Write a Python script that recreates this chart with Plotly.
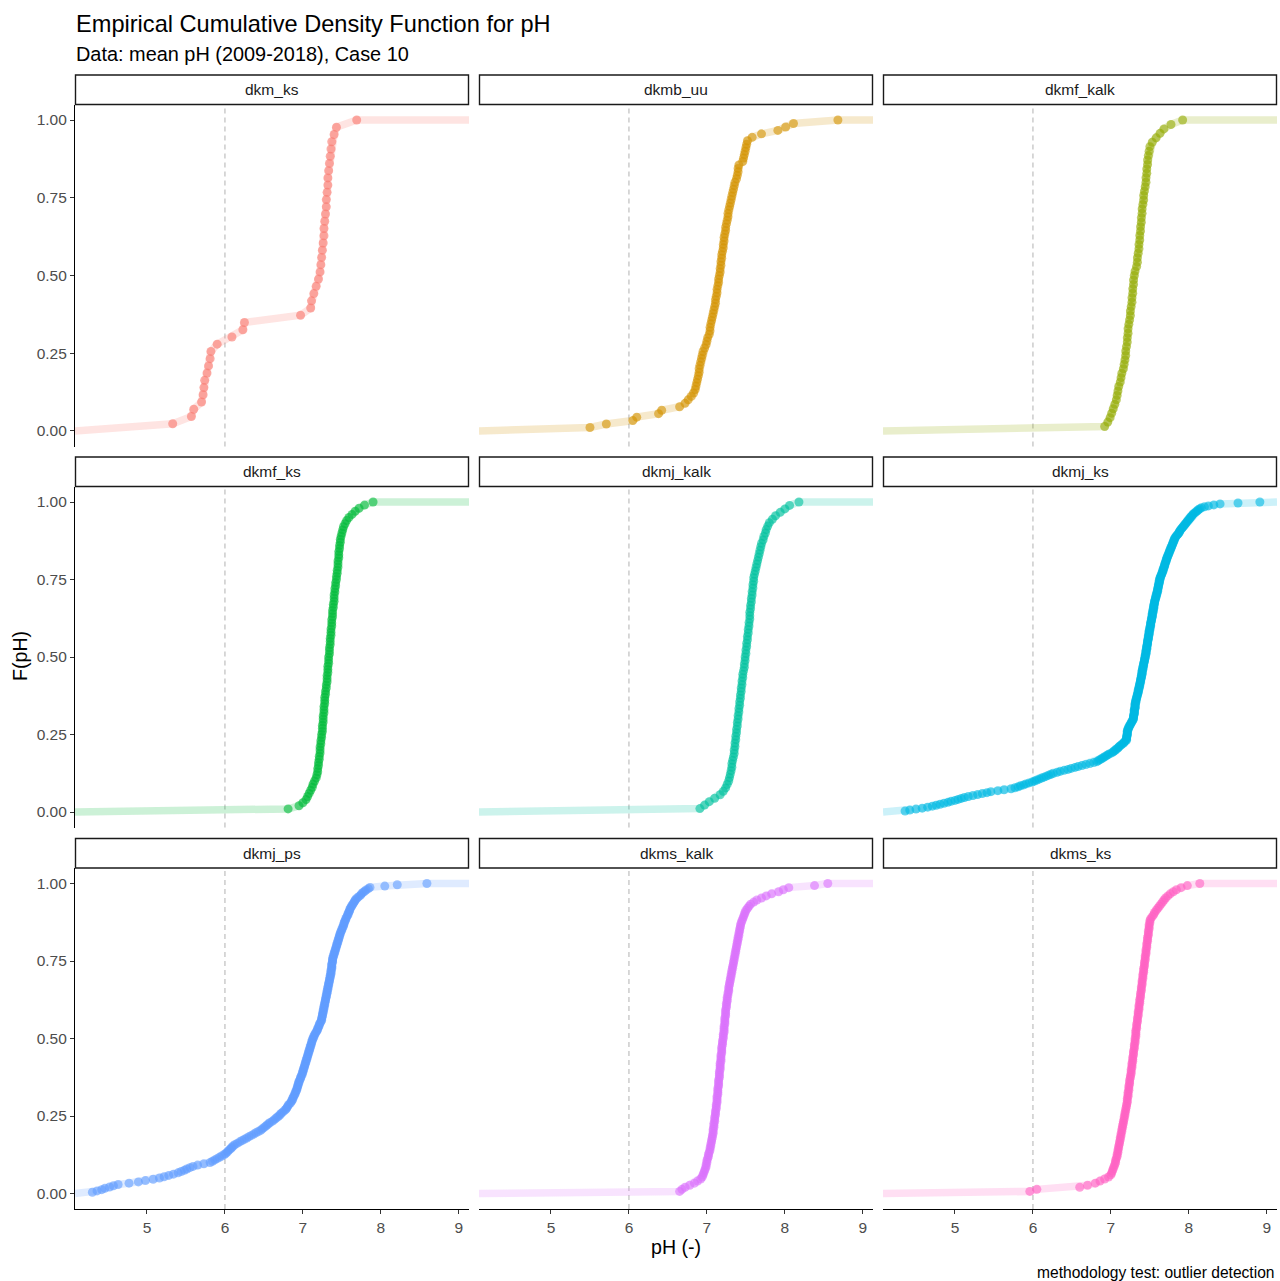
import plotly.graph_objects as go

W, H = 1280, 1281

TITLE = "Empirical Cumulative Density Function for pH"
SUBTITLE = "Data: mean pH (2009-2018), Case 10"
CAPTION = "methodology test: outlier detection"
X_TITLE = "pH (-)"
Y_TITLE = "F(pH)"

PANELS = ["dkm_ks", "dkmb_uu", "dkmf_kalk", "dkmf_ks", "dkmj_kalk",
          "dkmj_ks", "dkmj_ps", "dkms_kalk", "dkms_ks"]
COLORS = ["#F8766D", "#D39200", "#93AA00", "#00BA38", "#00C19F",
          "#00B9E3", "#619CFF", "#DB72FB", "#FF61C3"]

X_TICKS = [5, 6, 7, 8, 9]
Y_TICKS = [0, 0.25, 0.5, 0.75, 1.0]
Y_TICKTEXT = ["0.00", "0.25", "0.50", "0.75", "1.00"]
THRESHOLD = 6

# sorted mean pH values per station group
ph_dkm_ks = [5.33, 5.57, 5.60, 5.70, 5.72, 5.73, 5.74, 5.77, 5.79, 5.81,
             5.82, 5.90, 6.09, 6.23, 6.25, 6.97, 7.10, 7.11, 7.14, 7.17,
             7.20, 7.22, 7.23, 7.24, 7.25, 7.26, 7.27, 7.27, 7.28, 7.29,
             7.30, 7.30, 7.31, 7.32, 7.32, 7.33, 7.34, 7.35, 7.36, 7.37,
             7.40, 7.43, 7.69]

ph_dkmb_uu = [5.50, 5.71, 6.05, 6.10, 6.38, 6.42, 6.65, 6.72, 6.76, 6.80,
              6.83, 6.85, 6.86, 6.87, 6.88, 6.89, 6.90, 6.90, 6.91, 6.92,
              6.93, 6.94, 6.95, 6.97, 6.99, 7.00, 7.01, 7.03, 7.04, 7.04,
              7.05, 7.06, 7.07, 7.08, 7.09, 7.10, 7.11, 7.11, 7.12, 7.13,
              7.13, 7.14, 7.15, 7.15, 7.16, 7.17, 7.17, 7.18, 7.18, 7.19,
              7.19, 7.20, 7.21, 7.21, 7.22, 7.22, 7.23, 7.24, 7.24, 7.25,
              7.26, 7.27, 7.27, 7.28, 7.29, 7.30, 7.31, 7.32, 7.33, 7.34,
              7.35, 7.36, 7.38, 7.39, 7.40, 7.40, 7.41, 7.46, 7.47, 7.48,
              7.49, 7.50, 7.51, 7.52, 7.58, 7.70, 7.91, 8.01, 8.11, 8.68]

ph_dkmf_kalk = [6.92, 6.96, 6.99, 7.01, 7.03, 7.05, 7.07, 7.08, 7.09, 7.10,
                7.12, 7.13, 7.14, 7.16, 7.17, 7.18, 7.19, 7.19, 7.20, 7.21,
                7.21, 7.22, 7.22, 7.23, 7.24, 7.25, 7.25, 7.26, 7.27, 7.27,
                7.28, 7.28, 7.29, 7.29, 7.30, 7.31, 7.33, 7.34, 7.34, 7.35,
                7.36, 7.36, 7.37, 7.37, 7.38, 7.38, 7.39, 7.39, 7.40, 7.40,
                7.41, 7.42, 7.42, 7.43, 7.44, 7.45, 7.45, 7.46, 7.46, 7.47,
                7.47, 7.48, 7.49, 7.50, 7.53, 7.58, 7.63, 7.68, 7.77, 7.92]

ph_dkmf_ks = [6.81, 6.95, 7.00, 7.04, 7.06, 7.08, 7.10, 7.12, 7.13, 7.15,
              7.17, 7.18, 7.19, 7.19, 7.20, 7.20, 7.21, 7.21, 7.22, 7.22,
              7.22, 7.23, 7.23, 7.24, 7.24, 7.25, 7.25, 7.25, 7.26, 7.26,
              7.26, 7.27, 7.27, 7.27, 7.28, 7.28, 7.28, 7.29, 7.29, 7.30,
              7.30, 7.31, 7.31, 7.31, 7.32, 7.32, 7.32, 7.33, 7.33, 7.33,
              7.34, 7.34, 7.34, 7.35, 7.35, 7.35, 7.36, 7.36, 7.36, 7.37,
              7.37, 7.37, 7.38, 7.38, 7.38, 7.39, 7.39, 7.40, 7.40, 7.40,
              7.41, 7.41, 7.42, 7.42, 7.43, 7.43, 7.44, 7.44, 7.45, 7.45,
              7.45, 7.46, 7.46, 7.46, 7.47, 7.47, 7.48, 7.48, 7.49, 7.50,
              7.51, 7.52, 7.54, 7.56, 7.59, 7.63, 7.67, 7.72, 7.79, 7.90]

ph_dkmj_kalk = [6.91, 6.97, 7.03, 7.10, 7.17, 7.21, 7.24, 7.26, 7.28, 7.29,
                7.30, 7.31, 7.32, 7.32, 7.33, 7.34, 7.35, 7.35, 7.36, 7.36,
                7.37, 7.37, 7.38, 7.38, 7.39, 7.39, 7.40, 7.40, 7.41, 7.41,
                7.42, 7.42, 7.43, 7.43, 7.44, 7.44, 7.45, 7.45, 7.46, 7.46,
                7.47, 7.48, 7.48, 7.49, 7.49, 7.50, 7.50, 7.51, 7.51, 7.52,
                7.52, 7.53, 7.53, 7.54, 7.54, 7.55, 7.55, 7.55, 7.56, 7.56,
                7.57, 7.57, 7.58, 7.58, 7.59, 7.59, 7.60, 7.60, 7.61, 7.62,
                7.63, 7.64, 7.65, 7.66, 7.67, 7.68, 7.69, 7.70, 7.72, 7.73,
                7.75, 7.76, 7.78, 7.80, 7.84, 7.88, 7.94, 8.00, 8.06, 8.18]

ph_dkmj_ks = [4.36, 4.42, 4.50, 4.58, 4.65, 4.71, 4.76, 4.81, 4.86, 4.91,
              4.95, 5.00, 5.04, 5.08, 5.12, 5.17, 5.23, 5.29, 5.35, 5.41,
              5.46, 5.55, 5.63, 5.72, 5.77, 5.81, 5.84, 5.88, 5.91, 5.95,
              5.99, 6.02, 6.05, 6.08, 6.11, 6.14, 6.17, 6.20, 6.23, 6.26,
              6.31, 6.35, 6.40, 6.45, 6.49, 6.54, 6.58, 6.63, 6.68, 6.73,
              6.78, 6.82, 6.84, 6.86, 6.88, 6.90, 6.92, 6.94, 6.96, 6.98,
              7.01, 7.03, 7.04, 7.06, 7.07, 7.09, 7.10, 7.11, 7.13, 7.14,
              7.16, 7.17, 7.18, 7.20, 7.20, 7.20, 7.20, 7.20, 7.21, 7.21,
              7.21, 7.21, 7.21, 7.21, 7.22, 7.22, 7.23, 7.23, 7.24, 7.25,
              7.25, 7.26, 7.27, 7.27, 7.28, 7.29, 7.29, 7.29, 7.29, 7.29,
              7.30, 7.30, 7.30, 7.30, 7.30, 7.30, 7.31, 7.31, 7.31, 7.31,
              7.31, 7.31, 7.32, 7.32, 7.32, 7.32, 7.33, 7.33, 7.33, 7.34,
              7.34, 7.34, 7.35, 7.35, 7.35, 7.35, 7.36, 7.36, 7.36, 7.37,
              7.37, 7.37, 7.37, 7.38, 7.38, 7.38, 7.38, 7.39, 7.39, 7.39,
              7.39, 7.40, 7.40, 7.40, 7.40, 7.40, 7.41, 7.41, 7.41, 7.41,
              7.42, 7.42, 7.42, 7.42, 7.43, 7.43, 7.43, 7.43, 7.44, 7.44,
              7.44, 7.44, 7.45, 7.45, 7.45, 7.45, 7.45, 7.46, 7.46, 7.46,
              7.46, 7.46, 7.47, 7.47, 7.47, 7.47, 7.47, 7.48, 7.48, 7.48,
              7.48, 7.48, 7.49, 7.49, 7.49, 7.49, 7.49, 7.50, 7.50, 7.50,
              7.50, 7.51, 7.51, 7.51, 7.51, 7.51, 7.52, 7.52, 7.52, 7.52,
              7.53, 7.53, 7.53, 7.53, 7.53, 7.54, 7.54, 7.54, 7.54, 7.55,
              7.55, 7.55, 7.55, 7.55, 7.56, 7.56, 7.56, 7.56, 7.57, 7.57,
              7.57, 7.58, 7.58, 7.58, 7.59, 7.59, 7.59, 7.60, 7.60, 7.60,
              7.60, 7.61, 7.61, 7.61, 7.61, 7.62, 7.62, 7.62, 7.62, 7.63,
              7.63, 7.63, 7.64, 7.64, 7.65, 7.65, 7.66, 7.66, 7.67, 7.67,
              7.67, 7.68, 7.68, 7.69, 7.69, 7.69, 7.70, 7.70, 7.71, 7.71,
              7.71, 7.72, 7.72, 7.73, 7.73, 7.74, 7.74, 7.75, 7.75, 7.76,
              7.76, 7.77, 7.77, 7.78, 7.78, 7.79, 7.79, 7.80, 7.80, 7.81,
              7.81, 7.82, 7.82, 7.83, 7.84, 7.85, 7.86, 7.87, 7.88, 7.88,
              7.89, 7.90, 7.91, 7.92, 7.93, 7.94, 7.95, 7.96, 7.97, 7.98,
              7.99, 8.00, 8.01, 8.02, 8.03, 8.04, 8.05, 8.06, 8.08, 8.09,
              8.11, 8.12, 8.14, 8.16, 8.20, 8.25, 8.32, 8.40, 8.63, 8.91]

ph_dkmj_ps = [4.30, 4.36, 4.42, 4.46, 4.52, 4.57, 4.63, 4.77, 4.89, 4.98,
              5.08, 5.16, 5.22, 5.28, 5.34, 5.40, 5.44, 5.48, 5.51, 5.55,
              5.59, 5.65, 5.73, 5.81, 5.84, 5.87, 5.90, 5.93, 5.96, 5.99,
              6.01, 6.03, 6.04, 6.06, 6.08, 6.09, 6.11, 6.13, 6.16, 6.19,
              6.22, 6.25, 6.28, 6.31, 6.34, 6.37, 6.40, 6.43, 6.46, 6.48,
              6.50, 6.52, 6.54, 6.56, 6.58, 6.61, 6.63, 6.65, 6.67, 6.69,
              6.71, 6.72, 6.74, 6.76, 6.78, 6.79, 6.80, 6.81, 6.82, 6.84,
              6.85, 6.86, 6.87, 6.87, 6.88, 6.89, 6.90, 6.90, 6.91, 6.92,
              6.92, 6.93, 6.93, 6.94, 6.94, 6.95, 6.95, 6.96, 6.97, 6.97,
              6.98, 6.99, 6.99, 7.00, 7.00, 7.01, 7.01, 7.02, 7.02, 7.03,
              7.03, 7.04, 7.04, 7.05, 7.05, 7.06, 7.06, 7.07, 7.07, 7.08,
              7.08, 7.09, 7.09, 7.10, 7.10, 7.11, 7.11, 7.12, 7.12, 7.13,
              7.14, 7.14, 7.15, 7.16, 7.17, 7.18, 7.19, 7.19, 7.20, 7.21,
              7.21, 7.22, 7.23, 7.24, 7.24, 7.24, 7.25, 7.25, 7.25, 7.26,
              7.26, 7.26, 7.27, 7.27, 7.27, 7.28, 7.28, 7.28, 7.29, 7.29,
              7.29, 7.30, 7.30, 7.30, 7.31, 7.31, 7.31, 7.32, 7.32, 7.32,
              7.33, 7.33, 7.33, 7.34, 7.34, 7.34, 7.35, 7.35, 7.35, 7.36,
              7.36, 7.36, 7.36, 7.37, 7.37, 7.37, 7.37, 7.37, 7.38, 7.38,
              7.38, 7.38, 7.39, 7.39, 7.40, 7.40, 7.41, 7.41, 7.42, 7.42,
              7.43, 7.43, 7.44, 7.44, 7.45, 7.45, 7.46, 7.46, 7.47, 7.47,
              7.48, 7.48, 7.49, 7.50, 7.50, 7.51, 7.52, 7.52, 7.53, 7.53,
              7.54, 7.55, 7.55, 7.56, 7.57, 7.58, 7.58, 7.59, 7.60, 7.60,
              7.61, 7.62, 7.63, 7.64, 7.65, 7.66, 7.67, 7.68, 7.70, 7.72,
              7.74, 7.75, 7.77, 7.79, 7.81, 7.84, 7.86, 8.05, 8.21, 8.59]

ph_dkms_kalk = [6.65, 6.68, 6.72, 6.78, 6.84, 6.88, 6.92, 6.94, 6.95, 6.96,
                6.97, 6.98, 6.99, 6.99, 7.00, 7.00, 7.01, 7.02, 7.02, 7.03,
                7.04, 7.04, 7.05, 7.05, 7.06, 7.06, 7.07, 7.07, 7.08, 7.08,
                7.08, 7.09, 7.09, 7.09, 7.10, 7.10, 7.10, 7.11, 7.11, 7.11,
                7.12, 7.12, 7.12, 7.13, 7.13, 7.13, 7.13, 7.14, 7.14, 7.14,
                7.14, 7.15, 7.15, 7.15, 7.15, 7.16, 7.16, 7.16, 7.16, 7.17,
                7.17, 7.17, 7.17, 7.18, 7.18, 7.18, 7.18, 7.19, 7.19, 7.19,
                7.19, 7.20, 7.20, 7.20, 7.21, 7.21, 7.21, 7.22, 7.22, 7.22,
                7.22, 7.23, 7.23, 7.23, 7.23, 7.24, 7.24, 7.24, 7.24, 7.25,
                7.25, 7.25, 7.26, 7.26, 7.26, 7.27, 7.27, 7.28, 7.28, 7.28,
                7.29, 7.29, 7.30, 7.30, 7.31, 7.31, 7.32, 7.32, 7.33, 7.33,
                7.34, 7.34, 7.35, 7.35, 7.36, 7.36, 7.37, 7.37, 7.38, 7.38,
                7.39, 7.39, 7.40, 7.40, 7.41, 7.41, 7.42, 7.42, 7.43, 7.43,
                7.44, 7.45, 7.46, 7.47, 7.48, 7.49, 7.50, 7.52, 7.54, 7.56,
                7.60, 7.64, 7.70, 7.76, 7.83, 7.92, 7.98, 8.05, 8.38, 8.55]

ph_dkms_ks = [5.96, 6.05, 6.60, 6.70, 6.80, 6.86, 6.92, 6.97, 7.00, 7.01,
              7.02, 7.03, 7.04, 7.05, 7.06, 7.06, 7.07, 7.08, 7.08, 7.09,
              7.09, 7.10, 7.10, 7.11, 7.11, 7.12, 7.12, 7.13, 7.13, 7.14,
              7.14, 7.15, 7.15, 7.16, 7.16, 7.17, 7.17, 7.18, 7.18, 7.19,
              7.19, 7.20, 7.20, 7.21, 7.21, 7.21, 7.22, 7.22, 7.22, 7.23,
              7.23, 7.23, 7.24, 7.24, 7.24, 7.25, 7.25, 7.26, 7.26, 7.26,
              7.27, 7.27, 7.27, 7.28, 7.28, 7.28, 7.29, 7.29, 7.29, 7.30,
              7.30, 7.30, 7.31, 7.31, 7.31, 7.32, 7.32, 7.32, 7.32, 7.33,
              7.33, 7.33, 7.34, 7.34, 7.34, 7.35, 7.35, 7.35, 7.36, 7.36,
              7.36, 7.37, 7.37, 7.37, 7.38, 7.38, 7.38, 7.39, 7.39, 7.39,
              7.40, 7.40, 7.40, 7.41, 7.41, 7.41, 7.42, 7.42, 7.42, 7.43,
              7.43, 7.43, 7.44, 7.44, 7.44, 7.45, 7.45, 7.45, 7.46, 7.46,
              7.46, 7.47, 7.47, 7.47, 7.48, 7.48, 7.48, 7.49, 7.49, 7.49,
              7.50, 7.50, 7.51, 7.53, 7.55, 7.56, 7.58, 7.60, 7.62, 7.64,
              7.66, 7.68, 7.70, 7.73, 7.76, 7.80, 7.84, 7.90, 7.98, 8.14]

DATA = [ph_dkm_ks, ph_dkmb_uu, ph_dkmf_kalk, ph_dkmf_ks, ph_dkmj_kalk,
        ph_dkmj_ks, ph_dkmj_ps, ph_dkms_kalk, ph_dkms_ks]

# ---------------- layout geometry (pixels) ----------------
X_RANGE = [4.077, 9.13]
Y_RANGE = [-0.05, 1.05]
COLS_PX = [(75, 469), (479, 873), (883, 1277)]
ROWS_PX = [(104.5, 446.5), (486.5, 827.5), (868, 1209)]
STRIP_H = 29.5
FONT = "Liberation Sans, Arial, sans-serif"
SMALL = 15.5


def rgba(hex_color, a):
    h = hex_color.lstrip("#")
    r, g, b = int(h[0:2], 16), int(h[2:4], 16), int(h[4:6], 16)
    return f"rgba({r},{g},{b},{a})"


def px_x(p):
    return p / W


def px_y(p):
    return 1 - p / H


fig = go.Figure()
shapes = []
annotations = []

for k, (name, color, vals) in enumerate(zip(PANELS, COLORS, DATA)):
    r, c = divmod(k, 3)
    idx = "" if k == 0 else str(k + 1)
    xa, ya = "x" + idx, "y" + idx
    n = len(vals)
    F = [(i + 1) / n for i in range(n)]

    # ECDF line padded to the panel edges (stat_ecdf pad = TRUE)
    fig.add_trace(go.Scatter(
        x=[X_RANGE[0]] + vals + [X_RANGE[1]], y=[0] + F + [1],
        mode="lines", line=dict(color=rgba(color, 0.2), width=7.5),
        xaxis=xa, yaxis=ya, showlegend=False, hoverinfo="skip"))
    fig.add_trace(go.Scatter(
        x=vals, y=F, mode="markers",
        marker=dict(color=rgba(color, 0.6), size=9, line=dict(width=0)),
        xaxis=xa, yaxis=ya, showlegend=False, name=name))

    x0, x1 = COLS_PX[c]
    y0, y1 = ROWS_PX[r]
    bottom = (r == 2)
    left = (c == 0)
    fig.layout["xaxis" + idx] = dict(
        domain=[px_x(x0), px_x(x1)], range=X_RANGE, anchor=ya,
        tickvals=X_TICKS, ticktext=[str(v) for v in X_TICKS],
        showticklabels=bottom, ticks="outside" if bottom else "",
        ticklen=4, tickwidth=1, tickcolor="#333333",
        showline=bottom, linecolor="black", linewidth=1.1,
        showgrid=False, zeroline=False,
        tickfont=dict(family=FONT, size=SMALL, color="#4D4D4D"))
    fig.layout["yaxis" + idx] = dict(
        domain=[px_y(y1), px_y(y0)], range=Y_RANGE, anchor=xa,
        tickvals=Y_TICKS, ticktext=Y_TICKTEXT,
        showticklabels=left, ticks="outside" if left else "",
        ticklen=4, tickwidth=1, tickcolor="#333333",
        showline=left, linecolor="black", linewidth=1.1,
        showgrid=False, zeroline=False,
        tickfont=dict(family=FONT, size=SMALL, color="#4D4D4D"))

    # threshold line at pH 6
    shapes.append(dict(type="line", xref=xa, yref=ya + " domain",
                       x0=THRESHOLD, x1=THRESHOLD, y0=0, y1=1,
                       line=dict(color="#BEBEBE", width=1.2, dash="5px,4px"),
                       layer="below"))
    # strip
    shapes.append(dict(type="rect", xref="paper", yref="paper",
                       x0=px_x(x0 + 0.5), x1=px_x(x1 - 0.5),
                       y0=px_y(y0), y1=px_y(y0 - STRIP_H),
                       line=dict(color="#1A1A1A", width=1.4),
                       fillcolor="white"))
    annotations.append(dict(text=name, xref="paper", yref="paper",
                            x=px_x((x0 + x1) / 2), y=px_y(y0 - STRIP_H / 2),
                            xanchor="center", yanchor="middle", showarrow=False,
                            font=dict(family=FONT, size=SMALL, color="#1A1A1A")))

annotations += [
    dict(text=TITLE, xref="paper", yref="paper", x=px_x(74), y=px_y(24),
         xanchor="left", yanchor="middle", showarrow=False,
         font=dict(family=FONT, size=23.6, color="black")),
    dict(text=SUBTITLE, xref="paper", yref="paper", x=px_x(74), y=px_y(54),
         xanchor="left", yanchor="middle", showarrow=False,
         font=dict(family=FONT, size=19.9, color="black")),
    dict(text=X_TITLE, xref="paper", yref="paper", x=px_x(676), y=px_y(1247),
         xanchor="center", yanchor="middle", showarrow=False,
         font=dict(family=FONT, size=19.6, color="black")),
    dict(text=Y_TITLE, xref="paper", yref="paper", x=px_x(20), y=px_y(656),
         xanchor="center", yanchor="middle", showarrow=False, textangle=-90,
         font=dict(family=FONT, size=19.6, color="black")),
    dict(text=CAPTION, xref="paper", yref="paper", x=px_x(1277), y=px_y(1272),
         xanchor="right", yanchor="middle", showarrow=False,
         font=dict(family=FONT, size=15.6, color="black")),
]

fig.update_layout(
    width=W, height=H, margin=dict(l=0, r=0, t=0, b=0),
    paper_bgcolor="white", plot_bgcolor="white",
    shapes=shapes, annotations=annotations, showlegend=False,
)

# remove the default 8px page margin so the figure sits at the window origin
fig.write_html("out.html",
               config={"displayModeBar": False},
               post_script="document.body.style.margin='0';"
                           "document.body.style.overflow='hidden';")
